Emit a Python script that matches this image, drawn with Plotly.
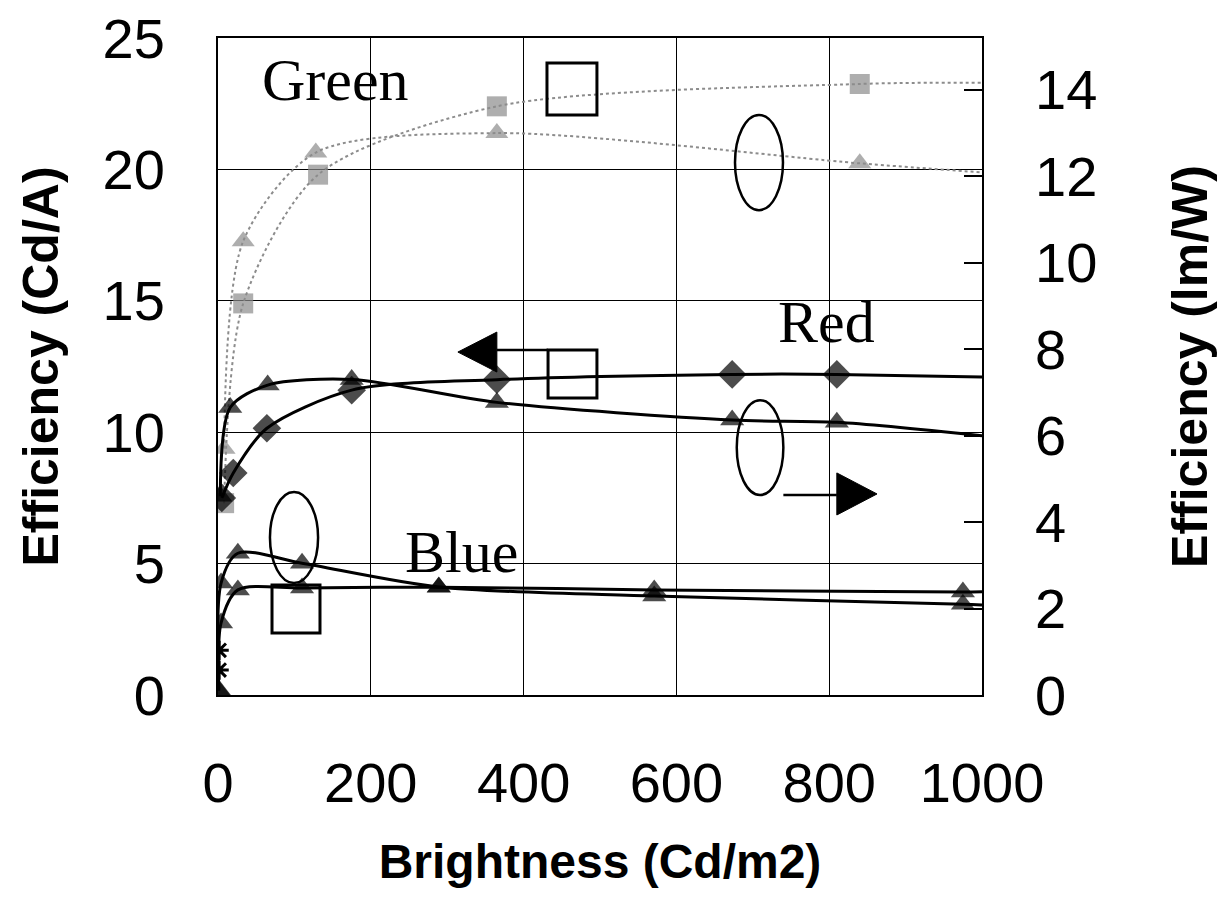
import plotly.graph_objects as go

# ---- data (Brightness in Cd/m2) ----
green_x = [8, 33, 131, 365, 840]
green_cda = [7.3, 14.9, 19.8, 22.4, 23.25]
green_lmw_x = [8, 33, 128, 365, 840]
green_lmw = [5.7, 10.5, 12.55, 13.0, 12.3]

red_cda_x = [5, 20, 64, 175, 365, 673, 810]
red_cda = [7.5, 8.45, 10.15, 11.6, 12.0, 12.2, 12.2]
red_lmw_x = [3, 16, 65, 175, 365, 673, 810]
red_lmw = [4.6, 6.65, 7.17, 7.3, 6.77, 6.36, 6.31]

blue_x = [1, 4, 26, 110, 289, 571, 975]
blue_cda = [0.2, 2.74, 4.0, 4.07, 4.1, 4.0, 3.92]
blue_lmw = [0.1, 2.59, 3.28, 3.05, 2.5, 2.29, 2.1]

star_x = [1.5, 1.5]
star_cda = [1.7, 0.95]

# trend-line end values at the right edge (x = 1000)
trend_end_x = 1000
green_cda_end, green_lmw_end = 23.3, 12.09
red_cda_end, red_lmw_end = 12.1, 6.0
blue_cda_end, blue_lmw_end = 3.93, 2.08

GRAY = "#8c8c8c"
BLACK = "#000000"

fig = go.Figure()


def add_series(name, xs, ys, end_y, symbol, color, dash, width, msize, axis):
    x_line = list(xs) + [trend_end_x]
    y_line = list(ys) + [end_y]
    sizes = [msize] * len(xs) + [0]
    fig.add_trace(go.Scatter(
        x=x_line, y=y_line, name=name, yaxis=axis,
        mode="lines+markers",
        line=dict(color=color, width=width, dash=dash, shape="spline", smoothing=0.8),
        marker=dict(symbol=symbol, size=sizes, color=color, line=dict(width=0)),
        showlegend=False,
    ))


add_series("Green Cd/A", green_x, green_cda, green_cda_end, "square", GRAY, "dot", 2, 20, "y")
add_series("Green lm/W", green_lmw_x, green_lmw, green_lmw_end, "triangle-up", GRAY, "dot", 2, 20, "y2")
add_series("Red Cd/A", red_cda_x, red_cda, red_cda_end, "diamond", BLACK, "solid", 3, 22, "y")
add_series("Red lm/W", red_lmw_x, red_lmw, red_lmw_end, "triangle-up", BLACK, "solid", 3, 21, "y2")
add_series("Blue Cd/A", blue_x, blue_cda, blue_cda_end, "triangle-up", BLACK, "solid", 3, 21, "y")
add_series("Blue lm/W", blue_x, blue_lmw, blue_lmw_end, "triangle-up", BLACK, "solid", 3, 21, "y2")

fig.add_trace(go.Scatter(
    x=star_x, y=star_cda, mode="markers", yaxis="y", showlegend=False,
    marker=dict(symbol="asterisk-open", size=16, color=BLACK, line=dict(width=3, color=BLACK)),
))

# ---- annotation shapes (left-axis data coordinates) ----
shapes = []
def rect(x0, x1, y0, y1, w=3):
    shapes.append(dict(type="rect", xref="x", yref="y", x0=x0, x1=x1, y0=y0, y1=y1,
                       line=dict(color=BLACK, width=w), fillcolor="rgba(0,0,0,0)"))
def ellipse(x0, x1, y0, y1):
    shapes.append(dict(type="circle", xref="x", yref="y", x0=x0, x1=x1, y0=y0, y1=y1,
                       line=dict(color=BLACK, width=2.5)))
def seg(x0, x1, y0, y1):
    shapes.append(dict(type="line", xref="x", yref="y", x0=x0, x1=x1, y0=y0, y1=y1,
                       line=dict(color=BLACK, width=2.5)))
def tri(path):
    shapes.append(dict(type="path", xref="x", yref="y", path=path,
                       fillcolor=BLACK, line=dict(color=BLACK, width=1)))

rect(430.6, 496, 22.07, 24.05)          # green square
ellipse(676.7, 739.5, 18.45, 22.07)     # green ellipse
tri("M 314,13.05 L 365,13.81 L 365,12.29 Z")   # left arrow head
seg(365, 432, 13.13, 13.13)
rect(432, 496, 11.30, 13.13)            # red square
ellipse(679, 740, 7.61, 11.22)          # red ellipse
seg(740, 810, 7.61, 7.61)
tri("M 862.6,7.65 L 810,8.45 L 810,6.85 Z")    # right arrow head
ellipse(68, 131, 4.26, 7.72)            # blue ellipse
rect(70.7, 133.5, 2.36, 4.19)           # blue square

serif = dict(family="Liberation Serif, Times New Roman, serif", size=60, color=BLACK)
annotations = [
    dict(x=154, y=23.4, xref="x", yref="y", text="Green", showarrow=False, font=serif),
    dict(x=797, y=14.2, xref="x", yref="y", text="Red", showarrow=False, font=serif),
    dict(x=319, y=5.45, xref="x", yref="y", text="Blue", showarrow=False, font=serif),
]

tickfont = dict(family="Liberation Sans, Arial, sans-serif", size=56, color=BLACK)
titlefont = dict(family="Liberation Sans, Arial, sans-serif", size=50, color=BLACK, weight="bold")

fig.update_layout(
    width=1220, height=899,
    margin=dict(l=218, r=238, t=38, b=204, autoexpand=False),
    paper_bgcolor="white", plot_bgcolor="white",
    shapes=shapes, annotations=annotations,
    xaxis=dict(
        range=[0, 1000], dtick=200, tick0=0, automargin=False,
        showgrid=True, gridcolor=BLACK, gridwidth=1,
        showline=True, linecolor=BLACK, linewidth=2, mirror=True,
        zeroline=False, ticks="", tickfont=tickfont, ticklabelstandoff=38,
        title=dict(text="Brightness (Cd/m2)", font=dict(titlefont, size=48), standoff=31),
    ),
    yaxis=dict(
        range=[0, 25], dtick=5, tick0=0, automargin=False,
        showgrid=True, gridcolor=BLACK, gridwidth=1,
        showline=True, linecolor=BLACK, linewidth=2, mirror=True,
        zeroline=False, ticks="", tickfont=tickfont, ticklabelstandoff=40,
        title=dict(text="Efficiency (Cd/A)", font=titlefont, standoff=28),
    ),
    yaxis2=dict(
        range=[0, 15.2], dtick=2, tick0=0, overlaying="y", side="right", automargin=False,
        showgrid=False, zeroline=False, showline=False,
        ticks="inside", ticklen=18, tickcolor=BLACK, tickwidth=2,
        tickfont=tickfont, ticklabelstandoff=52,
        title=dict(text="Efficiency (lm/W)", font=titlefont, standoff=75),
    ),
)

fig.write_html(
    "out.html",
    config={"displayModeBar": False},
    post_script="document.body.style.margin='0';document.body.style.overflow='hidden';",
)
